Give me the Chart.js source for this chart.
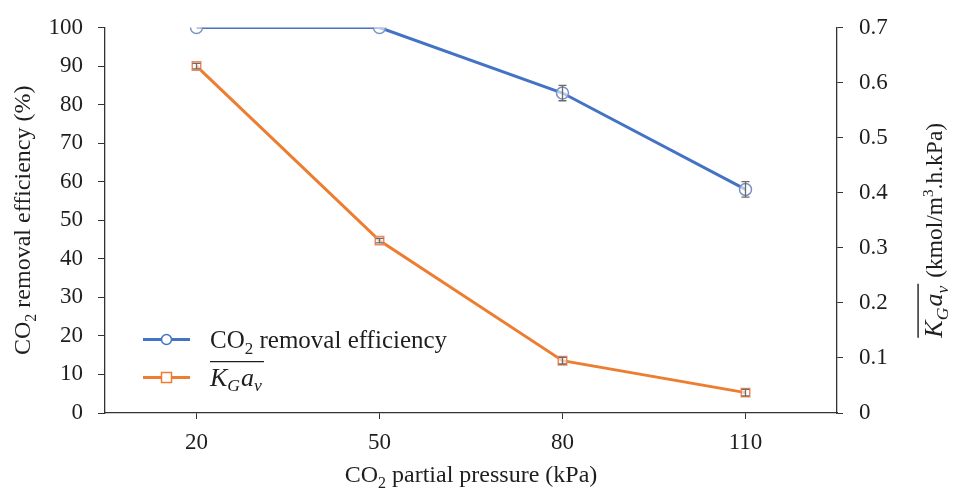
<!DOCTYPE html>
<html>
<head>
<meta charset="utf-8">
<script src="https://cdn.jsdelivr.net/npm/chart.js@4.4.1/dist/chart.umd.min.js"></script>
<style>
  html, body { margin: 0; padding: 0; background: #fff; }
  #wrap { width: 954px; height: 491px; position: relative; }
</style>
</head>
<body>
<div id="wrap"><canvas id="chart"></canvas></div>
<script>
// Data
const pressures = ['20', '50', '80', '110'];
const efficiency = [100, 100, 83, 58];
const efficiencyErr = [0, 0, 2, 2];
const kgav = [0.63, 0.313, 0.095, 0.037];
const kgavErr = [0.005, 0.004, 0.006, 0.006];
const effTicks = [0, 10, 20, 30, 40, 50, 60, 70, 80, 90, 100];
const kgavTicks = [0, 0.1, 0.2, 0.3, 0.4, 0.5, 0.6, 0.7];

const BLUE = '#4472C4';
const ORANGE = '#ED7D31';
const TEXT = '#1e1e1e';
const AXIS = '#333333';
const SERIF = '"Liberation Serif", "DejaVu Serif", serif';

// draw a run of text pieces (subscripts, italics, overline)
function richWidth(ctx, segs) {
  let w = 0;
  segs.forEach(s => {
    ctx.font = (s.italic ? 'italic ' : '') + s.size + 'px ' + SERIF;
    w += ctx.measureText(s.t).width + (s.gap || 0);
  });
  return w;
}
function drawRich(ctx, segs, x, y, align) {
  let cx = align === 'center' ? x - richWidth(ctx, segs) / 2 : x;
  let olStart = null, olTop = 0;
  ctx.textBaseline = 'alphabetic';
  ctx.textAlign = 'left';
  segs.forEach((s, i) => {
    ctx.font = (s.italic ? 'italic ' : '') + s.size + 'px ' + SERIF;
    const w = ctx.measureText(s.t).width;
    if (s.over && olStart === null) { olStart = cx; olTop = y - s.size * 0.92; }
    ctx.fillText(s.t, cx, y + (s.dy || 0));
    cx += w + (s.gap || 0);
    const next = segs[i + 1];
    if (olStart !== null && (!next || !next.over)) {
      ctx.save();
      ctx.lineWidth = 1.4;
      ctx.beginPath();
      ctx.moveTo(olStart, olTop);
      ctx.lineTo(cx, olTop);
      ctx.stroke();
      ctx.restore();
      olStart = null;
    }
  });
}

const kgavSegs = (size) => [
  { t: 'K', size: size, italic: true, over: true },
  { t: 'G', size: size * 0.68, italic: true, dy: size * 0.22, over: true, gap: 1 },
  { t: 'a', size: size, italic: true, over: true },
  { t: 'v', size: size * 0.68, italic: true, dy: size * 0.22, over: true, gap: 2 }
];

// error bars
const errorBars = {
  id: 'errorBars',
  afterDatasetsDraw(chart) {
    const ctx = chart.ctx;
    const sets = [
      { meta: chart.getDatasetMeta(0), vals: efficiency, errs: efficiencyErr, scale: chart.scales.y },
      { meta: chart.getDatasetMeta(1), vals: kgav, errs: kgavErr, scale: chart.scales.y1 }
    ];
    ctx.save();
    ctx.strokeStyle = '#6a6a6a';
    ctx.lineWidth = 1.3;
    sets.forEach(s => {
      s.meta.data.forEach((pt, i) => {
        if (!s.errs[i]) return;
        const top = s.scale.getPixelForValue(s.vals[i] + s.errs[i]);
        const bot = s.scale.getPixelForValue(s.vals[i] - s.errs[i]);
        ctx.beginPath();
        ctx.moveTo(pt.x, top); ctx.lineTo(pt.x, bot);
        ctx.moveTo(pt.x - 4, top); ctx.lineTo(pt.x + 4, top);
        ctx.moveTo(pt.x - 4, bot); ctx.lineTo(pt.x + 4, bot);
        ctx.stroke();
      });
    });
    ctx.restore();
  }
};

// axis titles and legend
const labels = {
  id: 'labels',
  afterDraw(chart) {
    const ctx = chart.ctx;
    const a = chart.chartArea;
    ctx.save();
    ctx.fillStyle = TEXT;
    ctx.strokeStyle = TEXT;

    // x title
    drawRich(ctx, [
      { t: 'CO', size: 24 },
      { t: '2', size: 16, dy: 6 },
      { t: ' partial pressure (kPa)', size: 24 }
    ], (a.left + a.right) / 2, 482, 'center');

    // left title
    ctx.save();
    ctx.translate(30, (a.top + a.bottom) / 2);
    ctx.rotate(-Math.PI / 2);
    drawRich(ctx, [
      { t: 'CO', size: 24 },
      { t: '2', size: 16, dy: 6 },
      { t: ' removal efficiency (%)', size: 24 }
    ], 0, 0, 'center');
    ctx.restore();

    // right title
    ctx.save();
    ctx.translate(942, (a.top + a.bottom) / 2 + 10);
    ctx.rotate(-Math.PI / 2);
    drawRich(ctx, kgavSegs(26).concat([
      { t: ' (kmol/m', size: 23.5 },
      { t: '3', size: 15, dy: -9 },
      { t: '.h.kPa)', size: 23.5 }
    ]), 0, 0, 'center');
    ctx.restore();

    // legend
    const items = [
      { color: BLUE, style: 'circle', y: a.top + 312,
        segs: [{ t: 'CO', size: 25 }, { t: '2', size: 17, dy: 6 }, { t: ' removal efficiency', size: 25 }] },
      { color: ORANGE, style: 'rect', y: a.top + 350, segs: kgavSegs(26) }
    ];
    items.forEach(it => {
      const x0 = a.left + 38, x1 = a.left + 85, xm = (x0 + x1) / 2;
      ctx.strokeStyle = it.color;
      ctx.lineWidth = 3;
      ctx.beginPath(); ctx.moveTo(x0, it.y); ctx.lineTo(x1, it.y); ctx.stroke();
      ctx.lineWidth = 1.5;
      ctx.fillStyle = '#fff';
      ctx.beginPath();
      if (it.style === 'circle') ctx.arc(xm, it.y, 5, 0, Math.PI * 2);
      else ctx.rect(xm - 5, it.y - 5, 10, 10);
      ctx.fill(); ctx.stroke();
      ctx.fillStyle = TEXT;
      ctx.strokeStyle = TEXT;
      drawRich(ctx, it.segs, a.left + 105, it.y + 8, 'left');
    });
    ctx.restore();
  }
};

const tickFont = { family: SERIF, size: 23, lineHeight: 1 };

new Chart(document.getElementById('chart'), {
  type: 'line',
  data: {
    labels: pressures,
    datasets: [
      {
        label: 'CO2 removal efficiency',
        data: efficiency,
        yAxisID: 'y',
        borderColor: BLUE,
        borderWidth: 3,
        pointStyle: 'circle',
        pointRadius: 6,
        pointBorderWidth: 1.5,
        pointBorderColor: '#7b90c0',
        pointBackgroundColor: 'rgba(255,255,255,0.6)'
      },
      {
        label: 'KGav',
        data: kgav,
        yAxisID: 'y1',
        borderColor: ORANGE,
        borderWidth: 3,
        pointStyle: 'rect',
        pointRadius: 6,
        pointBorderWidth: 1.5,
        pointBorderColor: '#f08a5a',
        pointBackgroundColor: 'rgba(255,255,255,0.6)'
      }
    ]
  },
  options: {
    responsive: true,
    maintainAspectRatio: false,
    animation: false,
    layout: { padding: { top: 27, left: 0, right: 0, bottom: 0 } },
    plugins: { legend: { display: false }, tooltip: { enabled: false } },
    scales: {
      x: {
        offset: true,
        grid: { display: true, drawOnChartArea: false, tickLength: 6, color: AXIS, offset: false },
        border: { color: AXIS, width: 1.3 },
        ticks: { font: tickFont, color: TEXT, padding: 12, maxRotation: 0 },
        afterFit(s) { s.height = 78; }
      },
      y: {
        position: 'left',
        min: 0, max: 100,
        afterBuildTicks(s) { s.ticks = effTicks.map(v => ({ value: v })); },
        grid: { drawOnChartArea: false, tickLength: 7, color: AXIS },
        border: { color: AXIS, width: 1.3 },
        ticks: { font: tickFont, color: TEXT, padding: 15 },
        afterFit(s) { s.width = 105; }
      },
      y1: {
        position: 'right',
        min: 0, max: 0.7,
        afterBuildTicks(s) { s.ticks = kgavTicks.map(v => ({ value: v })); },
        grid: { drawOnChartArea: false, tickLength: 6, color: AXIS },
        border: { color: AXIS, width: 1.3 },
        ticks: { font: tickFont, color: TEXT, padding: 16, callback: v => v === 0 ? '0' : v.toFixed(1) },
        afterFit(s) { s.width = 117; }
      }
    }
  },
  plugins: [errorBars, labels]
});
</script>
</body>
</html>
